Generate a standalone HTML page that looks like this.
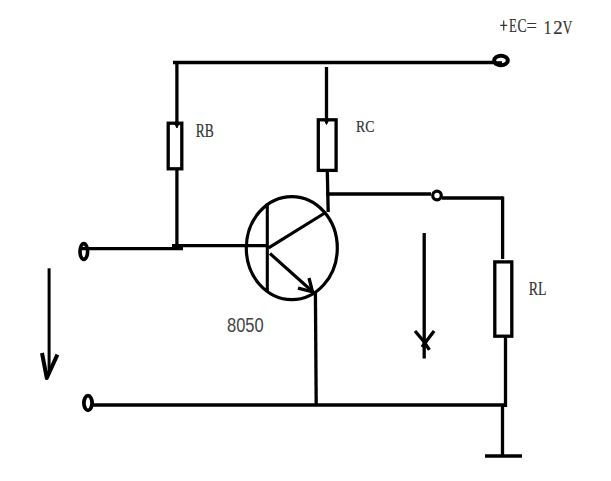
<!DOCTYPE html>
<html><head><meta charset="utf-8">
<style>
html,body{margin:0;padding:0;background:#fff;width:611px;height:481px;overflow:hidden}
svg{display:block}
text{font-family:"Liberation Serif",serif}
</style></head>
<body>
<svg width="611" height="481" viewBox="0 0 611 481">
<g fill="none" stroke="#000" stroke-width="3.3" stroke-linecap="butt">
  <!-- top supply wire -->
  <path d="M173 62.5 H495"/>
  <!-- top right terminal -->
  <ellipse cx="501" cy="60.5" rx="6.8" ry="4.8" stroke-width="4"/>
  <path d="M494 63.2 H502" stroke-width="4"/>
  <!-- RB wire -->
  <path d="M176.9 61 V122"/>
  <rect x="168.2" y="123.2" width="13.6" height="45.6"/>
  <path d="M176.9 170 V249"/>
  <path d="M175 124 L176.9 128 L178.8 124 Z" fill="#000" stroke-width="1"/>
  <!-- RC wire -->
  <path d="M326.5 67 V119"/>
  <rect x="318.3" y="119.8" width="17.8" height="50.6"/>
  <path d="M327.3 171 L328.2 212"/>
  <path d="M324.6 120.5 L326.5 124.5 L328.4 120.5 Z" fill="#000" stroke-width="1"/>
  <!-- collector wire to output terminal -->
  <path d="M326 194 H431"/>
  <circle cx="437" cy="195.5" r="4.3" stroke-width="3.2"/>
  <path d="M442 198 H503"/>
  <path d="M502.6 196.5 V259"/>
  <!-- RL -->
  <rect x="494.8" y="261.9" width="17" height="74.3"/>
  <path d="M505.5 337 V407"/>
  <!-- ground -->
  <path d="M502.5 405 V456"/>
  <path d="M485 456 H522"/>
  <!-- base input -->
  <ellipse cx="83.8" cy="251.5" rx="3.8" ry="7.9" stroke-width="3.6"/>
  <path d="M81 248.7 H183"/>
  <path d="M172 245.6 H267"/>
  <!-- transistor -->
  <ellipse cx="291.8" cy="248.1" rx="45.5" ry="51.5" stroke-width="3.2"/>
  <path d="M267.3 203.5 V291" stroke-width="3.1"/>
  <path d="M268.6 247.9 L326 212.3" stroke-width="3.1"/>
  <path d="M270 253.5 L313 292" stroke-width="3.1"/>
  <path d="M298 288.2 L312.5 291.8 L309 278" stroke-width="3.3"/>
  <path d="M315.4 292 L316.2 405"/>
  <!-- bottom wire -->
  <ellipse cx="88" cy="403" rx="4.1" ry="7.3" stroke-width="3.8"/>
  <path d="M92.5 405 H505"/>
  <!-- left arrow -->
  <path d="M49.1 268.3 V372" stroke-width="3"/>
  <path d="M42 353 L46.8 378 L57.4 354.6" stroke-width="4" stroke-linejoin="round"/>
  <!-- middle arrow -->
  <path d="M424.2 233 V358.5"/>
  <path d="M415 331 L424.2 342 L429.4 349.8 M434.1 331 L424.2 344 L422 347"/>
</g>
<g fill="#333" stroke="#333" stroke-width="0.2">
<path d="M500.2 25.3 H507.2 M503.7 20.6 V30.4" stroke="#333" stroke-width="1.2" fill="none"/>
<text transform="translate(509.03,31.95) scale(0.680,1)" font-size="18.80">E</text>
<text transform="translate(517.45,31.95) scale(0.718,1)" font-size="18.80">C</text>
<text transform="translate(526.59,31.85) scale(0.972,1)" font-size="18.80">=</text>
<text transform="translate(543.85,33.90) scale(0.825,1)" font-size="18.60">1</text>
<text transform="translate(553.18,33.90) scale(1.006,1)" font-size="18.60">2</text>
<text transform="translate(562.85,33.90) scale(0.707,1)" font-size="18.60">V</text>
  <text x="195.8" y="136.6" font-size="18" textLength="18" lengthAdjust="spacingAndGlyphs">RB</text>
  <text x="356" y="132.2" font-size="17.7" textLength="18.4" lengthAdjust="spacingAndGlyphs">RC</text>
  <text x="528.8" y="294.6" font-size="18.5" textLength="17.7" lengthAdjust="spacingAndGlyphs">RL</text>
</g>
<text x="227" y="332.1" font-size="19.5" fill="#444" style="font-family:'Liberation Sans',sans-serif" textLength="36.7" lengthAdjust="spacingAndGlyphs">8050</text>
</svg>
</body></html>
